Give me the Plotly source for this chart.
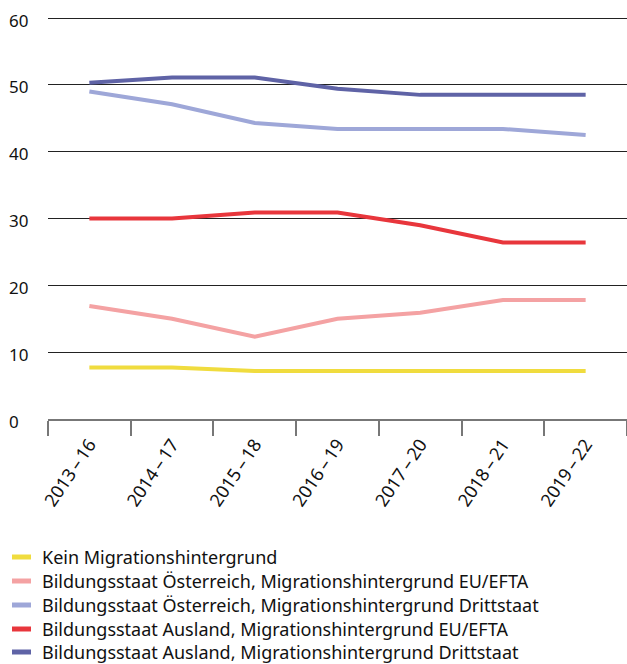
import plotly.graph_objects as go

categories = ["2013\u2009–\u200916", "2014\u2009–\u200917", "2015\u2009–\u200918", "2016\u2009–\u200919",
              "2017\u2009–\u200920", "2018\u2009–\u200921", "2019\u2009–\u200922"]
kein = [7.7, 7.7, 7.2, 7.2, 7.2, 7.2, 7.2]
oe_eu = [16.9, 15.0, 12.3, 15.0, 15.9, 17.8, 17.8]
oe_dritt = [49.0, 47.1, 44.3, 43.4, 43.4, 43.4, 42.5]
aus_eu = [30.0, 30.0, 30.9, 30.9, 29.0, 26.4, 26.4]
aus_dritt = [50.3, 51.1, 51.1, 49.4, 48.5, 48.5, 48.5]
y_ticks = [0, 10, 20, 30, 40, 50, 60]

names = [
    "Kein Migrationshintergrund",
    "Bildungsstaat Österreich, Migrationshintergrund EU/EFTA",
    "Bildungsstaat Österreich, Migrationshintergrund Drittstaat",
    "Bildungsstaat Ausland, Migrationshintergrund EU/EFTA",
    "Bildungsstaat Ausland, Migrationshintergrund Drittstaat",
]
series = [kein, oe_eu, oe_dritt, aus_eu, aus_dritt]
colors = ["#f0dc3e", "#f4a2a3", "#9ea7d8", "#e8363c", "#5f63a6"]

FONT = "Noto Sans"
fig = go.Figure()
for n, s, c in zip(names, series, colors):
    fig.add_trace(go.Scatter(x=categories, y=s, name=n, mode="lines",
                             line=dict(color=c, width=4), showlegend=False))

W, H = 627, 664
ml, mr, mt, mb = 48, 0, 14, 245
pw = W - ml - mr
ph = H - mt - mb

# manual legend
leg_y = [557, 581, 605, 629, 652]
for n, c, yp in zip(names, colors, leg_y):
    yy = (H - mb - yp) / ph
    fig.add_shape(type="line", xref="paper", yref="paper",
                  x0=(12 - ml) / pw, x1=(31 - ml) / pw, y0=yy, y1=yy,
                  line=dict(color=c, width=5))
    fig.add_annotation(xref="paper", yref="paper", x=(40 - ml) / pw, y=yy,
                       xanchor="left", yanchor="middle", text=n, showarrow=False,
                       font=dict(family=FONT, size=18, color="#111"))

# y tick labels (left aligned)
for v in y_ticks:
    fig.add_annotation(xref="paper", yref="y", x=(7 - ml) / pw, y=v, yshift=-2,
                       xanchor="left", yanchor="middle", text=str(v), showarrow=False,
                       font=dict(family=FONT, size=17, color="#111"))

fig.update_layout(
    width=W, height=H,
    margin=dict(l=ml, r=mr, t=mt, b=mb),
    plot_bgcolor="white", paper_bgcolor="white",
    font=dict(family=FONT, size=17, color="#111"),
)
fig.update_xaxes(
    type="category", range=[-0.5, 6.5], tickangle=-56, tickson="boundaries",
    ticks="outside", ticklen=15, tickwidth=1.5, tickcolor="#777",
    showline=True, linecolor="#777", linewidth=1.5, showgrid=False,
    ticklabelstandoff=6,
    tickfont=dict(family=FONT, size=18, color="#111"),
)
fig.update_yaxes(
    range=[0, 60.6], tickvals=y_ticks, showgrid=True, gridcolor="#222", gridwidth=1,
    zeroline=False, showline=False, ticks="", showticklabels=False,
)
fig.write_html("out.html", config={"displayModeBar": False},
               post_script="document.body.style.margin='0';document.body.style.overflow='hidden';")
